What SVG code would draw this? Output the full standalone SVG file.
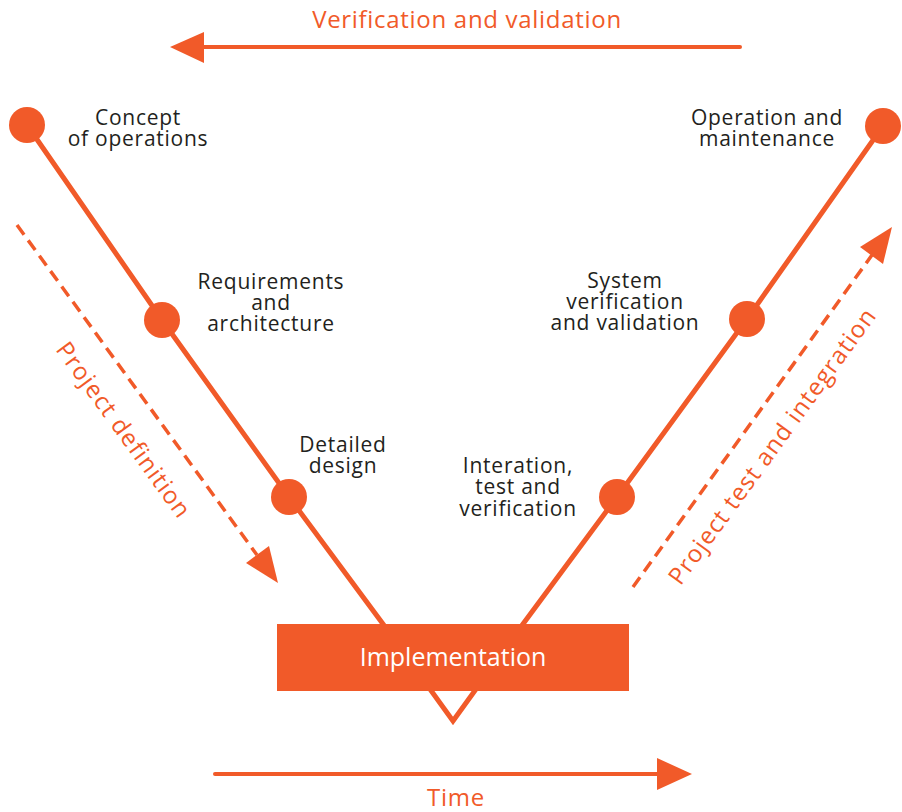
<svg xmlns="http://www.w3.org/2000/svg" width="902" height="812" viewBox="0 0 902 812">
<style>
.bg{fill:#ffffff}
.vline{fill:none;stroke:#F15A29;stroke-width:5;stroke-linejoin:miter}
.dot{fill:#F15A29}
.lbl{font-family:"Open Sans","Liberation Sans",sans-serif;font-size:21px;fill:#231f20;text-anchor:middle;letter-spacing:0.75px}
.olbl{font-family:"Open Sans","Liberation Sans",sans-serif;font-size:24px;fill:#F15A29;text-anchor:middle;letter-spacing:0.7px}
.rlbl{font-family:"Open Sans","Liberation Sans",sans-serif;font-size:24px;fill:#F15A29;text-anchor:middle;letter-spacing:1.1px}
.arrow{fill:none;stroke:#F15A29;stroke-width:4;stroke-linecap:round}
.dash{fill:none;stroke:#F15A29;stroke-width:3.5;stroke-dasharray:12 7}
.head{fill:#F15A29}
.box{fill:#F15A29}
.boxtxt{font-family:"Open Sans","Liberation Sans",sans-serif;font-size:25px;fill:#ffffff;text-anchor:middle}
</style>
<rect class="bg" x="0" y="0" width="902" height="812"/>
<g id="connectors">
  <polyline class="vline" points="27,125 162,320 289,497 383,624 453,721 523,624 617,497 747,319 883,126"/>
  <line class="arrow" x1="203" y1="47" x2="740" y2="47"/>
  <polygon class="head" points="170,47 204,32 204,63"/>
  <line class="arrow" x1="215" y1="774" x2="658" y2="774"/>
  <polygon class="head" points="657,758 692,774 657,790"/>
  <line class="dash" x1="17" y1="225" x2="257" y2="555"/>
  <polygon class="head" points="278,583 246,563 269,546"/>
  <line class="dash" x1="633" y1="587" x2="872" y2="255"/>
  <polygon class="head" points="892,227 883,264 860,247"/>
  <text class="olbl" x="467" y="28">Verification and validation</text>
  <text class="olbl" x="456" y="806">Time</text>
  <text class="rlbl" transform="translate(117,435) rotate(54)">Project definition</text>
  <text class="rlbl" transform="translate(779,451) rotate(-54)">Project test and integration</text>
</g>
<g id="node-implementation">
  <rect class="box" x="277" y="624" width="352" height="67"/>
  <text class="boxtxt" x="453" y="666">Implementation</text>
</g>
<g id="node-concept">
  <circle class="dot" cx="27" cy="125" r="18"/>
  <text class="lbl" x="138" y="125">Concept</text>
  <text class="lbl" x="138" y="146">of operations</text>
</g>
<g id="node-requirements">
  <circle class="dot" cx="162" cy="320" r="18"/>
  <text class="lbl" x="271" y="289">Requirements</text>
  <text class="lbl" x="271" y="310">and</text>
  <text class="lbl" x="271" y="331">architecture</text>
</g>
<g id="node-detailed">
  <circle class="dot" cx="289" cy="497" r="18"/>
  <text class="lbl" x="343" y="452">Detailed</text>
  <text class="lbl" x="343" y="473">design</text>
</g>
<g id="node-integration">
  <circle class="dot" cx="617" cy="497" r="18"/>
  <text class="lbl" x="518" y="473">Interation,</text>
  <text class="lbl" x="518" y="494">test and</text>
  <text class="lbl" x="518" y="516">verification</text>
</g>
<g id="node-system">
  <circle class="dot" cx="747" cy="319" r="18"/>
  <text class="lbl" x="625" y="288">System</text>
  <text class="lbl" x="625" y="309">verification</text>
  <text class="lbl" x="625" y="330">and validation</text>
</g>
<g id="node-operation">
  <circle class="dot" cx="883" cy="126" r="18"/>
  <text class="lbl" x="767" y="125">Operation and</text>
  <text class="lbl" x="767" y="146">maintenance</text>
</g>
</svg>
